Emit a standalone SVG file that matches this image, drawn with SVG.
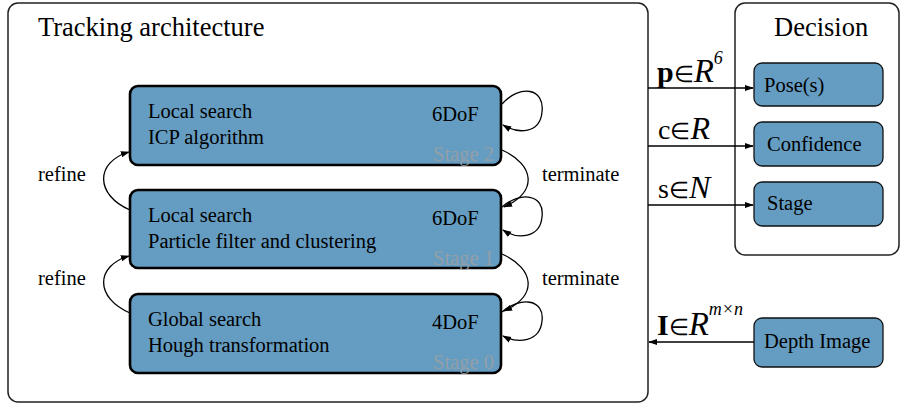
<svg xmlns="http://www.w3.org/2000/svg" width="904" height="405" viewBox="0 0 904 405">
<defs>
<marker id="ah" viewBox="0 0 10 10" refX="9" refY="5" markerWidth="9" markerHeight="9" markerUnits="userSpaceOnUse" orient="auto">
<path d="M0,1.5 L10,5 L0,8.5 z" fill="#000"/>
</marker>
<style>
.frame{fill:#fff;stroke:#222;stroke-width:1.5}
.stage{fill:#659cc1;stroke:#000;stroke-width:2.6}
.dec{fill:#659cc1;stroke:#111;stroke-width:1.3}
.t{font-family:"Liberation Serif","Times New Roman",serif;fill:#000}
.b{font-size:20.5px}
.sl{font-family:"Liberation Serif","Times New Roman",serif;fill:#98a0a6;font-size:20.5px;text-anchor:end;opacity:0.9}
.c{fill:none;stroke:#000;stroke-width:1.3}
</style>
</defs>
<g id="tracking">
<rect class="frame" x="8" y="3" width="640" height="399" rx="10"/>
<text class="t" x="38" y="36" font-size="26.5">Tracking architecture</text>
</g>
<g id="decision">
<rect class="frame" x="735" y="3" width="164" height="252" rx="10"/>
<text class="t" x="774" y="36" font-size="26.5">Decision</text>
</g>
<g id="stage2">
<rect class="stage" x="130" y="86" width="371" height="79" rx="8"/>
<text class="t b" x="148" y="118">Local search</text>
<text class="t b" x="148" y="144">ICP algorithm</text>
<text class="t b" x="432" y="121">6DoF</text>
<text class="sl" x="494" y="161">Stage 2</text>
</g>
<g id="stage1">
<rect class="stage" x="130" y="190" width="371" height="78" rx="8"/>
<text class="t b" x="148" y="222">Local search</text>
<text class="t b" x="148" y="248">Particle filter and clustering</text>
<text class="t b" x="432" y="225">6DoF</text>
<text class="sl" x="494" y="265">Stage 1</text>
</g>
<g id="stage0">
<rect class="stage" x="130" y="294" width="371" height="79" rx="8"/>
<text class="t b" x="148" y="326">Global search</text>
<text class="t b" x="148" y="352">Hough transformation</text>
<text class="t b" x="432" y="329">4DoF</text>
<text class="sl" x="494" y="369">Stage 0</text>
</g>
<g id="pose">
<rect class="dec" x="754" y="63" width="129" height="43" rx="8"/>
<text class="t b" x="764" y="92">Pose(s)</text>
</g>
<g id="confidence">
<rect class="dec" x="754" y="122" width="129" height="44" rx="8"/>
<text class="t b" x="767" y="151">Confidence</text>
</g>
<g id="stage">
<rect class="dec" x="754" y="182" width="129" height="44" rx="8"/>
<text class="t b" x="767" y="210">Stage</text>
</g>
<g id="depth">
<rect class="dec" x="754" y="318" width="129" height="49" rx="8"/>
<text class="t b" x="764" y="348">Depth Image</text>
</g>
<g id="connectors">
<path class="c" d="M502,104 C520,84 545,88 542,112 C540,134 518,134 503,125" marker-end="url(#ah)"/>
<path class="c" d="M502,207 C520,191 545,194 542,217 C540,238 518,240 503,230" marker-end="url(#ah)"/>
<path class="c" d="M502,312 C520,296 545,299 542,321 C540,342 518,344 503,336" marker-end="url(#ah)"/>
<path class="c" d="M502,150 C535,165 538,192 504,207" marker-end="url(#ah)"/>
<path class="c" d="M502,254 C535,269 538,296 504,311" marker-end="url(#ah)"/>
<path class="c" d="M130,210 C95,195 95,162 129,152" marker-end="url(#ah)"/>
<path class="c" d="M130,313 C95,298 95,266 129,256" marker-end="url(#ah)"/>
<text class="t b" x="38" y="181">refine</text>
<text class="t b" x="38" y="285">refine</text>
<text class="t b" x="542" y="181">terminate</text>
<text class="t b" x="542" y="285">terminate</text>
<path class="c" d="M648,88 L753,88" marker-end="url(#ah)"/>
<path class="c" d="M648,146 L753,146" marker-end="url(#ah)"/>
<path class="c" d="M648,205 L753,205" marker-end="url(#ah)"/>
<path class="c" d="M754,342 L649,342" marker-end="url(#ah)"/>
<text class="t" x="657" y="82"><tspan font-size="30" font-weight="bold">p</tspan><tspan font-size="23">∈</tspan><tspan font-size="33" font-style="italic">R</tspan><tspan font-size="18" font-style="italic" dy="-18">6</tspan></text>
<text class="t" x="658" y="139"><tspan font-size="28">c</tspan><tspan font-size="23">∈</tspan><tspan font-size="32" font-style="italic">R</tspan></text>
<text class="t" x="658" y="198"><tspan font-size="28">s</tspan><tspan font-size="23">∈</tspan><tspan font-size="32" font-style="italic">N</tspan></text>
<text class="t" x="657" y="335"><tspan font-size="30" font-weight="bold">I</tspan><tspan font-size="23">∈</tspan><tspan font-size="33" font-style="italic">R</tspan><tspan font-size="18" font-style="italic" dy="-20">m×n</tspan></text>
</g>
</svg>
